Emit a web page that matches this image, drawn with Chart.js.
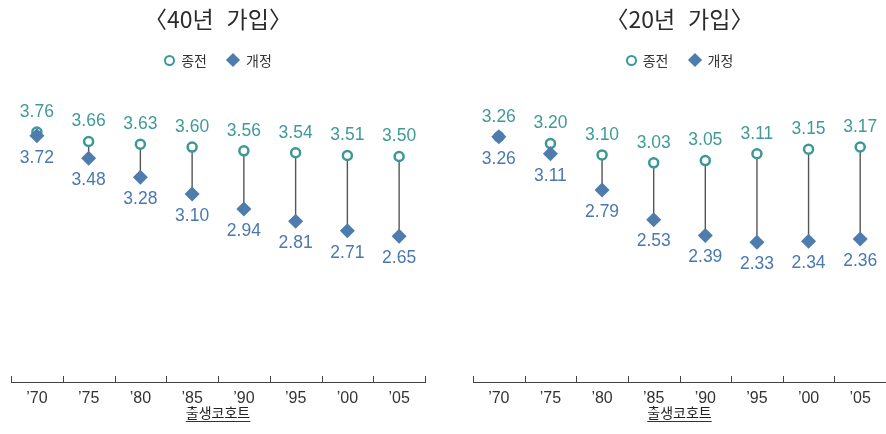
<!DOCTYPE html>
<html lang="ko">
<head>
<meta charset="utf-8">
<title>출생코호트별 비교</title>
<script src="https://cdn.jsdelivr.net/npm/chart.js@4.4.1/dist/chart.umd.min.js"></script>
<style>
  html, body { margin: 0; padding: 0; background: #fff; }
  body { width: 886px; height: 434px; position: relative; overflow: hidden;
         font-family: "Noto Sans CJK KR", "Noto Sans", sans-serif; }
  .panel { position: absolute; top: 0; height: 434px; }
  .panel canvas { position: absolute; left: 0; top: 0; }
  .title { position: absolute; top: 4px; height: 28px; line-height: 28px; text-align: center;
           font-size: 23px; color: #2b2b2b; white-space: pre; }
  .legend { position: absolute; top: 50px; height: 20px; display: flex; justify-content: center;
            align-items: center; font-size: 14px; color: #333; line-height: 20px; }
  .item { display: flex; align-items: center; }
  .item + .item { margin-left: 19px; }
  .item .t { margin-left: 6px; }
  .mk-old { width: 11px; height: 11px; box-sizing: border-box; border: 2.5px solid #3b9896;
            border-radius: 50%; background: #fff; }
  .mk-new { width: 10px; height: 10px; background: #4e7cad; transform: rotate(45deg); margin: 0 2px; }
</style>
</head>
<body>
  <div class="panel" id="p40" style="left:0;width:443px;">
    <canvas id="c40" width="443" height="434"></canvas>
    <div class="title" style="left:11px;width:414px;">〈40년  가입〉</div>
    <div class="legend" style="left:11px;width:414px;">
      <div class="item"><span class="mk-old"></span><span class="t">종전</span></div>
      <div class="item"><span class="mk-new"></span><span class="t">개정</span></div>
    </div>
  </div>
  <div class="panel" id="p20" style="left:442px;width:460px;">
    <canvas id="c20" width="460" height="434"></canvas>
    <div class="title" style="left:31px;width:413px;">〈20년  가입〉</div>
    <div class="legend" style="left:31px;width:413px;">
      <div class="item"><span class="mk-old"></span><span class="t">종전</span></div>
      <div class="item"><span class="mk-new"></span><span class="t">개정</span></div>
    </div>
  </div>

<script>
// Birth cohorts on the x axis
const cohortLabels = ['’70', '’75', '’80', '’85', '’90', '’95', '’00', '’05'];

// 40-year enrolment
const old40 = [3.76, 3.66, 3.63, 3.60, 3.56, 3.54, 3.51, 3.50];
const new40 = [3.72, 3.48, 3.28, 3.10, 2.94, 2.81, 2.71, 2.65];

// 20-year enrolment
const old20 = [3.26, 3.20, 3.10, 3.03, 3.05, 3.11, 3.15, 3.17];
const new20 = [3.26, 3.11, 2.79, 2.53, 2.39, 2.33, 2.34, 2.36];

const seriesNames = ['종전', '개정'];
const axisTitle = '출생코호트';

const TEAL = '#3b9896';
const TEAL_TEXT = '#3f9a98';
const BLUE = '#4e7cad';
const BLUE_TEXT = '#4a78b0';

// Vertical connector between the two values of each cohort
const connectorPlugin = {
  id: 'connector',
  beforeDatasetsDraw(chart) {
    const a = chart.getDatasetMeta(0).data;
    const b = chart.getDatasetMeta(1).data;
    const ctx = chart.ctx;
    ctx.save();
    ctx.strokeStyle = '#555';
    ctx.lineWidth = 1.4;
    for (let i = 0; i < a.length; i++) {
      ctx.beginPath();
      ctx.moveTo(a[i].x, a[i].y);
      ctx.lineTo(b[i].x, b[i].y);
      ctx.stroke();
    }
    ctx.restore();
  }
};

// Value labels: old value above its marker, new value below
const valueLabelPlugin = {
  id: 'valueLabels',
  afterDatasetsDraw(chart) {
    const ctx = chart.ctx;
    ctx.save();
    ctx.font = '17.5px "Liberation Sans", Arial, sans-serif';
    ctx.textAlign = 'center';
    ctx.textBaseline = 'middle';
    const specs = [{ idx: 0, dy: -20, color: TEAL_TEXT }, { idx: 1, dy: 22, color: BLUE_TEXT }];
    specs.forEach(s => {
      const vals = chart.data.datasets[s.idx].data;
      chart.getDatasetMeta(s.idx).data.forEach((pt, i) => {
        ctx.fillStyle = s.color;
        ctx.fillText(vals[i].toFixed(2), pt.x, pt.y + s.dy);
      });
    });
    ctx.restore();
  }
};

// Upward tick marks between cohorts and underline of the axis title
const axisDecorPlugin = {
  id: 'axisDecor',
  afterDraw(chart) {
    const x = chart.scales.x;
    const ctx = chart.ctx;
    const base = chart.chartArea.bottom;
    ctx.save();
    ctx.strokeStyle = '#444';
    ctx.lineWidth = 1;
    for (let i = 0; i <= cohortLabels.length; i++) {
      const px = Math.round(x.getPixelForValue(i - 0.5)) + 0.5;
      ctx.beginPath();
      ctx.moveTo(px, base);
      ctx.lineTo(px, base - 6);
      ctx.stroke();
    }
    const tf = x.options.title.font;
    ctx.font = tf.size + 'px ' + tf.family;
    const w = ctx.measureText(axisTitle).width;
    const cx = (x.left + x.right) / 2;
    ctx.strokeStyle = '#333';
    ctx.beginPath();
    ctx.moveTo(cx - w / 2, 421.5);
    ctx.lineTo(cx + w / 2, 421.5);
    ctx.stroke();
    ctx.restore();
  }
};

function makeChart(id, oldVals, newVals, yMax, padLeft, padRight) {
  return new Chart(document.getElementById(id), {
    type: 'line',
    data: {
      labels: cohortLabels,
      datasets: [
        {
          label: seriesNames[0], data: oldVals, showLine: false, order: 1, clip: false,
          pointStyle: 'circle', pointRadius: 4.5, pointBorderWidth: 2.5,
          pointBorderColor: TEAL, pointBackgroundColor: '#fff'
        },
        {
          label: seriesNames[1], data: newVals, showLine: false, order: 0, clip: false,
          pointStyle: 'rectRot', pointRadius: 7.5, pointBorderWidth: 0,
          pointBorderColor: BLUE, pointBackgroundColor: BLUE
        }
      ]
    },
    options: {
      responsive: false,
      animation: false,
      events: [],
      layout: { padding: { top: 109.5, left: padLeft, right: padRight, bottom: 0 } },
      plugins: { legend: { display: false }, tooltip: { enabled: false }, title: { display: false } },
      scales: {
        y: { display: false, min: 1.1, max: yMax },
        x: {
          type: 'category',
          offset: true,
          grid: { display: false, drawTicks: false, offset: true },
          border: { display: true, color: '#444', width: 1 },
          ticks: {
            color: '#333', padding: 6.5, maxRotation: 0, autoSkip: false,
            font: { family: '"Liberation Sans", Arial, sans-serif', size: 16 }
          },
          title: {
            display: true, text: axisTitle, color: '#222',
            font: { family: '"Noto Sans CJK KR", sans-serif', size: 14 },
            padding: { top: 0, bottom: 13 }
          },
          afterFit(scale) { scale.height = 52; }
        }
      }
    },
    plugins: [connectorPlugin, valueLabelPlugin, axisDecorPlugin]
  });
}

makeChart('c40', old40, new40, 4.0, 11, 18);
makeChart('c20', old20, new20, 3.5, 31, 16);
</script>
</body>
</html>
